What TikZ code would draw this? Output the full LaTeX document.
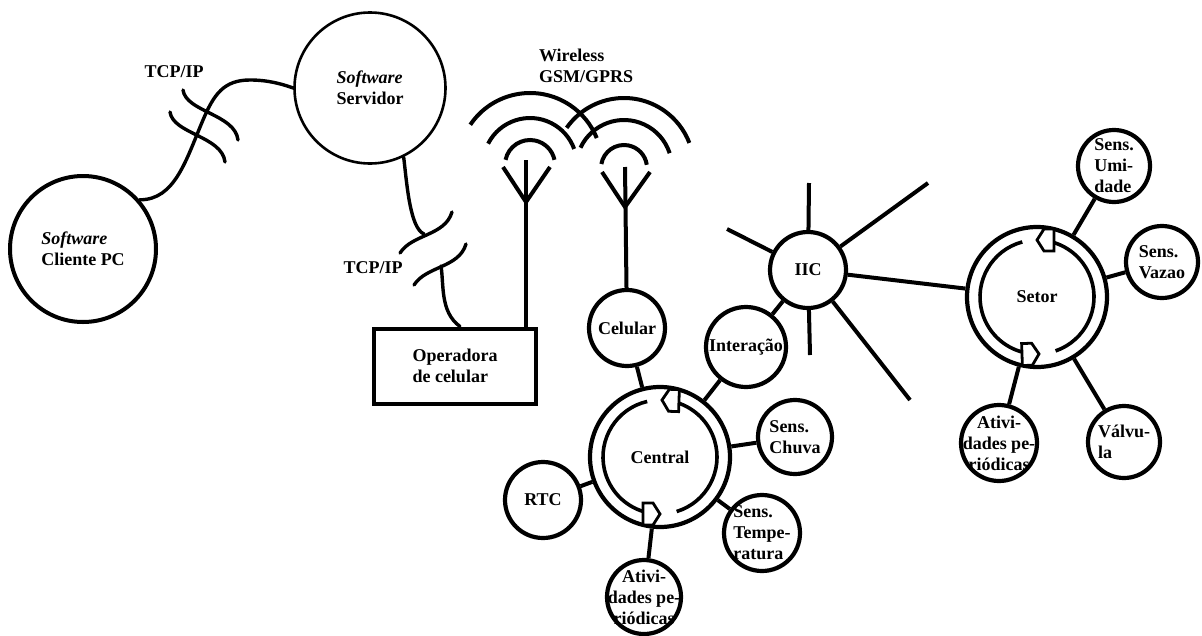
\documentclass[tikz,border=0pt]{standalone}
\usepackage{fontspec}
\setmainfont{Liberation Serif}

\begin{document}
\begin{tikzpicture}[x=1pt,y=1pt,
  font=\fontsize{18}{21}\selectfont\bfseries,
  unit/.style={circle,draw,line width=4.2pt,minimum size=76pt,inner sep=-8pt,align=left},
  hub/.style={circle,draw,line width=4.2pt,minimum size=140pt},
  host/.style={circle,draw,minimum size=146pt,align=left},
  link/.style={line width=4pt},
  cyc/.style={line width=3.6pt},
  wave/.style={line width=3.4pt,line cap=round},
  flowtip/.pic={\draw[line width=2.8pt,fill=white,line join=miter] (0,0) -- (-7,11) -- (-17,11) -- (-17,-11) -- (-7,-11) -- cycle;}]
  \useasboundingbox (0,0) rectangle (1202,-635);

  \node[host,line width=4pt] (cliente) at (83,-249) {\textit{Software}\\Cliente PC};
  \node[host,line width=2.6pt,minimum size=151pt] (servidor) at (370,-88) {\textit{Software}\\Servidor};
  \node[draw,line width=4pt,minimum width=162pt,minimum height=75pt,align=left] (operadora) at (455,-366) {Operadora\\de celular};
  \node[unit] (celular) at (627,-328) {Celular};
  \node[unit,minimum size=80pt] (interacao) at (746,-347) {Interação};
  \node[hub] (central) at (660,-457) {Central};
  \node[unit,minimum size=74pt] (chuva) at (795,-437) {Sens.\\Chuva};
  \node[unit] (temperatura) at (762,-533) {Sens.\\Tempe-\\ratura};
  \node[unit] (rtc) at (543,-500) {RTC};
  \node[unit,minimum size=74pt,align=center] (ativcentral) at (644,-597) {Ativi-\\dades pe-\\riódicas};
  \node[unit] (iic) at (808,-270) {IIC};
  \node[hub] (setor) at (1037,-297) {Setor};
  \node[unit,minimum size=72pt] (umidade) at (1114,-166) {Sens.\\Umi-\\dade};
  \node[unit,minimum size=72pt] (vazao) at (1162,-262) {Sens.\\Vazao};
  \node[unit,minimum size=72pt] (valvula) at (1124,-442) {Válvu-\\la};
  \node[unit,align=center] (ativsetor) at (999,-443) {Ativi-\\dades pe-\\riódicas};

  \node (tcpA) at (174,-72) {TCP/IP};
  \node (tcpB) at (373,-268) {TCP/IP};
  \node[align=left] (wireless) at (586,-66) {Wireless\\GSM/GPRS};

  \foreach \n in {celular,interacao,chuva,temperatura,rtc,ativcentral}
    \draw[link] (\n) -- (central);
  \foreach \n in {umidade,vazao,valvula,ativsetor,iic}
    \draw[link] (\n) -- (setor);
  \draw[link] (interacao) -- (iic);

  \coordinate (rayup) at (809,-183);
  \coordinate (rayleft) at (727,-229);
  \coordinate (rayright) at (928,-183);
  \coordinate (raydown) at (810,-355);
  \coordinate (raydiag) at (910,-400);
  \foreach \c in {rayup,rayleft,rayright,raydown,raydiag}
    \draw[link] (iic) -- (\c);

  \foreach \n/\d in {central/0,setor/2} {
    \pgfmathsetmacro\aA{103+\d}
    \pgfmathsetmacro\bA{254+\d}
    \pgfmathsetmacro\aB{287+\d}
    \pgfmathsetmacro\bB{433+\d}
    \pgfmathsetmacro\tA{270+\d}
    \pgfmathsetmacro\tB{88+\d}
    \pgfmathsetmacro\rB{178+\d}
    \draw[cyc] ([shift={(\aA:57)}]\n.center) arc[start angle=\aA,end angle=\bA,radius=57];
    \draw[cyc] ([shift={(\aB:57)}]\n.center) arc[start angle=\aB,end angle=\bB,radius=57];
    \pic[rotate=\d] at ([shift={(\tA:57)}]\n.center) {flowtip};
    \pic[rotate=\rB] at ([shift={(\tB:57)}]\n.center) {flowtip};
  }

  \coordinate (mastA) at (526,-160);
  \coordinate (mastB) at (625,-167);
  \draw[link] (mastA) -- (mastA |- operadora.north);
  \draw[link] (mastB) -- (celular);
  \draw[link] (mastA) ++(-23,-7) -- ++(23,-35) -- ++(24,35);
  \draw[link] (mastB) ++(-23,-5) -- ++(23,-35) -- ++(25,35);
  \foreach \r/\s/\e in {25/168/12,47/153/20,72/146/22}
    \draw[link] ([shift={(\s:\r)}]530,-165) arc[start angle=\s,end angle=\e,radius=\r];
  \foreach \r/\s/\e in {23/170/8,48/155/18,70/145/21}
    \draw[link] ([shift={(\s:\r)}]624,-168) arc[start angle=\s,end angle=\e,radius=\r];

  \draw[wave] (cliente.41) .. controls (175,-200) and (186,-160) .. (203,-120)
    .. controls (214,-94) and (224,-80) .. (250,-80)
    .. controls (268,-80) and (282,-84) .. (servidor.west);
  \draw[wave] (183,-90) .. controls (186,-112) and (235,-114) .. (238,-140);
  \draw[wave] (170,-112) .. controls (173,-134) and (222,-136) .. (225,-162);

  \coordinate (gapup) at (424,-234);
  \coordinate (gaplow) at (441,-266);
  \draw[wave] (servidor.-64) .. controls (407,-185) and (410,-228) .. (gapup);
  \draw[wave] (400,-253) .. controls (412,-234) and (445,-236) .. (452,-212);
  \draw[wave] (414,-285) .. controls (426,-266) and (459,-268) .. (466,-244);
  \draw[wave] (gaplow) .. controls (444,-285) and (440,-312) .. ([xshift=5pt]operadora.north);
\end{tikzpicture}
\end{document}
